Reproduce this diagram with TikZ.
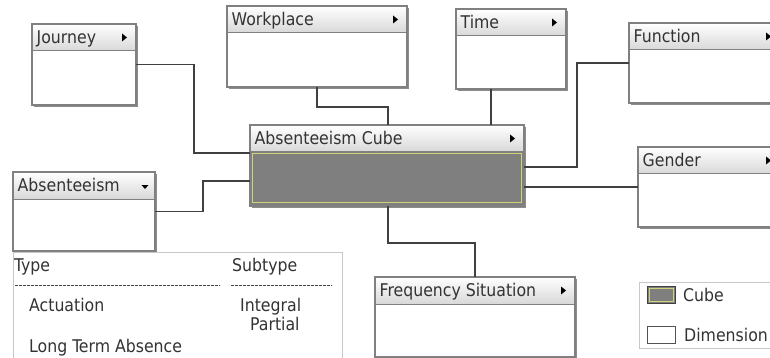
\documentclass[tikz,border=0pt]{standalone}
\usepackage{fontspec}
\setmainfont{DejaVu Sans Condensed}
\usetikzlibrary{calc,shadows}

\definecolor{boxline}{HTML}{808080}
\definecolor{shadowgray}{HTML}{8C8C8C}
\definecolor{hdrgray}{HTML}{D8D8D8}
\definecolor{txt}{HTML}{333333}
\definecolor{wire}{HTML}{404040}
\definecolor{cubegray}{HTML}{7F7F7F}
\definecolor{cubeedge}{HTML}{D2D27A}
\definecolor{tableline}{HTML}{C8C8C8}

\tikzset{
  boxbody/.style={rectangle, draw=boxline, line width=1.2pt, fill=white,
    inner sep=0pt, outer sep=0pt, anchor=north west,
    drop shadow={shadow xshift=1.6pt, shadow yshift=-1.6pt, fill=shadowgray, opacity=1}},
  panel/.style={rectangle, draw=tableline, line width=0.8pt, fill=white,
    inner sep=0pt, outer sep=0pt, anchor=north west},
  keybox/.style={rectangle, draw=wire, line width=1pt, inner sep=0pt, outer sep=0pt,
    anchor=north west, minimum width=28pt, minimum height=17pt},
  celltext/.style={anchor=west, text=txt, font=\fontsize{17.5}{21}\selectfont,
    inner sep=0pt, text height=12.7pt, text depth=0pt},
  boxtitle/.style={celltext},
  conn/.style={draw=wire, line width=1.1pt},
  rowrule/.style={draw=wire, line width=0.7pt, dash pattern=on 2.6pt off 1.4pt},
}

% dimension box: name, x, y, width, height, title
\newcommand\dimbox[6]{%
  \node[boxbody, minimum width=#4pt, minimum height=#5pt] (#1) at (#2,#3) {};
  \shade[top color=white, bottom color=hdrgray]
    (#1.north west) rectangle ($(#1.north east)+(0,27)$);
  \draw[boxline, line width=1pt]
    ($(#1.north west)+(0,27)$) -- ($(#1.north east)+(0,27)$);
  \draw[boxline, line width=1.2pt] (#1.north west) rectangle (#1.south east);
  \node[boxtitle] (#1-title) at ($(#1.north west)+(4.5,13.5)$) {#6};
}
% small expand marker in a header
\newcommand\expandmark[1]{%
  \fill[black] ($(#1.north east)+(-14,9.5)$) -- ++(5,4) -- ++(-5,4) -- cycle;}

\begin{document}
\begin{tikzpicture}[x=1pt,y=-1pt]
\useasboundingbox (0,0) rectangle (770,358);
\clip (0,0) rectangle (770,358);

% dimensions
\dimbox{journey}{32}{24}{104}{81}{Journey}
\expandmark{journey}
\dimbox{workplace}{227}{6}{180}{81}{Workplace}
\expandmark{workplace}
\dimbox{time}{456}{9}{110}{80}{Time}
\expandmark{time}
\dimbox{function}{629}{23}{151}{80}{Function}
\expandmark{function}
\dimbox{gender}{638}{147}{142}{80}{Gender}
\expandmark{gender}
\dimbox{freq}{375}{277}{200}{80}{Frequency Situation}
\expandmark{freq}
\dimbox{absent}{13}{172}{142}{79}{Absenteeism}
\fill[black] ($(absent.north east)+(-13.5,13)$) -- ++(7,0) -- ++(-3.5,4) -- cycle;

% the cube
\dimbox{cube}{250}{125}{274}{81}{Absenteeism Cube}
\expandmark{cube}
\fill[cubegray] ($(cube.north west)+(0.6,27.5)$) rectangle ($(cube.south east)+(-0.6,-0.6)$);
\draw[cubeedge, line width=0.9pt]
  ($(cube.north west)+(2.5,28.5)$) rectangle ($(cube.south east)+(-3,-4)$);

% connectors
\draw[conn] (journey.east) -- ++(58,0) |- ($(cube.north west)+(0,28)$);
\draw[conn] (workplace.south) -- ++(0,20) -| ($(cube.north west)+(138,0)$);
\draw[conn] ($(time.south west)+(35,0)$) coordinate (timefoot)
  -- (timefoot |- cube.north);
\draw[conn] (function.west) -- ++(-52,0) |- ($(cube.north east)+(0,42)$);
\draw[conn] (gender.west) -- (gender.west -| cube.east);
\draw[conn] (absent.east) -- ++(48,0) |- ($(cube.north west)+(0,56)$);
\draw[conn] ($(cube.south west)+(138,0)$) -- ++(0,37) -| (freq.north);

% type / subtype table
\node[panel, minimum width=329pt, minimum height=120pt] (types) at (13,252) {};
\node[celltext] (typehead) at (14,265) {Type};
\node[celltext] (subhead) at (232,265) {Subtype};
\draw[rowrule] (15,285) -- (220,285);
\draw[rowrule] (231,285) -- (332,285);
\node[celltext] (actuation) at (29,305) {Actuation};
\node[celltext] (integral) at (240,305) {Integral};
\node[celltext] (partial) at (250,324) {Partial};
\node[celltext] (longterm) at (29,346) {Long Term Absence};

% legend
\node[panel, minimum width=150pt, minimum height=66pt] (legend) at (639,282) {};
\node[keybox, fill=cubegray] (cubekey) at (647,286) {};
\draw[cubeedge, line width=0.9pt]
  ($(cubekey.north west)+(2,2)$) rectangle ($(cubekey.south east)+(-2,-2)$);
\node[celltext] (cubekeytext) at (683,295) {Cube};
\node[keybox, fill=white, draw=wire!90] (dimkey) at (647,326) {};
\node[celltext] (dimkeytext) at (684,335) {Dimension};
\end{tikzpicture}
\end{document}
